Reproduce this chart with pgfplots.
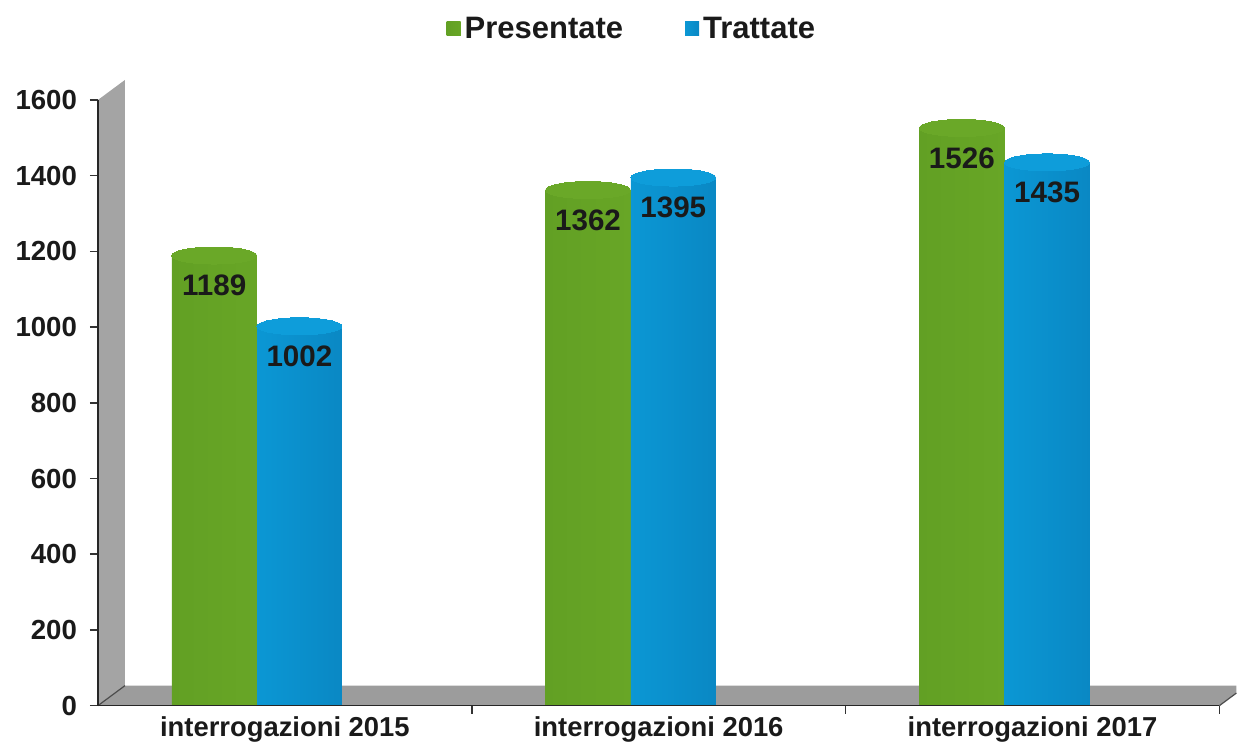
\documentclass[border=0pt]{standalone}
\usepackage{pgfplots}
\pgfplotsset{compat=1.18}
\usepackage{fontspec}
\setmainfont{Liberation Sans}
\definecolor{gmain}{HTML}{6EAC29}
\definecolor{gdark}{HTML}{62A024}
\definecolor{glight}{HTML}{74B02A}
\definecolor{gright}{HTML}{68A626}
\definecolor{gtop}{HTML}{6AA828}
\definecolor{bmain}{HTML}{0CA2DE}
\definecolor{bdark}{HTML}{0A88C4}
\definecolor{bleft}{HTML}{0B97D4}
\definecolor{blight}{HTML}{0EA5E1}
\definecolor{btop}{HTML}{0E9DDA}
\definecolor{wallgray}{HTML}{A4A4A4}
\definecolor{floorgray}{HTML}{9C9C9C}
\definecolor{txt}{HTML}{1A1A1A}
\pgfplotsset{
  gbar/.style={ybar, bar width=0.227, bar shift=0pt, draw=none,
    left color=gdark, middle color=glight, right color=gright},
  bbar/.style={ybar, bar width=0.227, bar shift=0pt, draw=none,
    left color=bleft, middle color=blight, right color=bdark},
  cap/.style={only marks, forget plot, mark=*, mark size=21.25pt,
    mark options={yscale=0.2, fill=#1, draw=#1, line width=0pt},
    nodes near coords,
    every node near coord/.append style={anchor=center, yshift=-15pt,
      font=\fontsize{14.8}{17}\selectfont\bfseries, text=txt}},
}
\begin{document}
\begin{tikzpicture}
\begin{axis}[
  scale only axis, width=561pt, height=303pt,
  xmin=-0.5, xmax=2.5, ymin=0, ymax=1600,
  clip=false, axis on top,
  axis x line*=bottom, axis y line*=left,
  axis line style={draw=black!85, line width=0.8pt},
  ytick={0,200,...,1600},
  xtick={0.5,1.5,2.5}, xticklabels={},
  extra x ticks={0,1,2},
  extra x tick labels={interrogazioni 2015,interrogazioni 2016,interrogazioni 2017},
  extra x tick style={major tick length=0pt},
  tick align=outside, major tick length=4pt,
  tick style={draw=black!80, line width=0.8pt},
  /pgf/number format/1000 sep={},
  /pgf/number format/assume math mode=true,
  yticklabel style={font=\fontsize{13.8}{16}\selectfont\bfseries, text=txt, xshift=-3pt},
  xticklabel style={font=\fontsize{13.7}{16}\selectfont\bfseries, text=txt, yshift=-2pt},
  legend style={at={(0.477,1)}, anchor=center, yshift=35.5pt, draw=none, fill=none,
    legend columns=2, font=\fontsize{15.5}{18}\selectfont\bfseries, text=txt,
    /tikz/every even column/.append style={column sep=29pt}},
]
\fill[wallgray] (axis cs:-0.5,0) -- (axis cs:-0.5,1600) -- ([shift={(13.5pt,10pt)}]axis cs:-0.5,1600) -- ([shift={(13.5pt,10pt)}]axis cs:-0.5,0) -- cycle;
\fill[floorgray] (axis cs:-0.5,0) -- (axis cs:2.5,0) -- ([shift={(8.5pt,6.3pt)}]axis cs:2.5,0) -- ([shift={(8.5pt,10pt)}]axis cs:2.5,0) -- ([shift={(13.5pt,10pt)}]axis cs:-0.5,0) -- cycle;
\draw[black!70, line width=0.6pt] (axis cs:-0.5,0) -- ([shift={(13.5pt,10pt)}]axis cs:-0.5,0);
\draw[black!70, line width=0.6pt] (axis cs:2.5,0) -- ([shift={(8.5pt,6.3pt)}]axis cs:2.5,0);
\path (rel axis cs:0,0) ++(-49pt,-23pt);
\path (rel axis cs:1,1) ++(8.5pt,50pt);

\addplot[gbar, legend image code/.code={\fill[gmain] (0pt,-3.5pt) rectangle (7pt,3.5pt);}]
  coordinates {(-0.189,1189)};
\addlegendentry{Presentate}
\addplot[bbar, legend image code/.code={\fill[bmain] (0pt,-3.5pt) rectangle (7pt,3.5pt);}]
  coordinates {(0.039,1002)};
\addlegendentry{Trattate}
\addplot[gbar, forget plot] coordinates {(0.811,1362)};
\addplot[gbar, forget plot] coordinates {(1.811,1526)};
\addplot[bbar, forget plot] coordinates {(1.039,1395)};
\addplot[bbar, forget plot] coordinates {(2.039,1435)};

\addplot[cap=gtop] coordinates {(-0.189,1189) (0.811,1362) (1.811,1526)};
\addplot[cap=btop] coordinates {(0.039,1002) (1.039,1395) (2.039,1435)};
\end{axis}
\end{tikzpicture}
\end{document}
